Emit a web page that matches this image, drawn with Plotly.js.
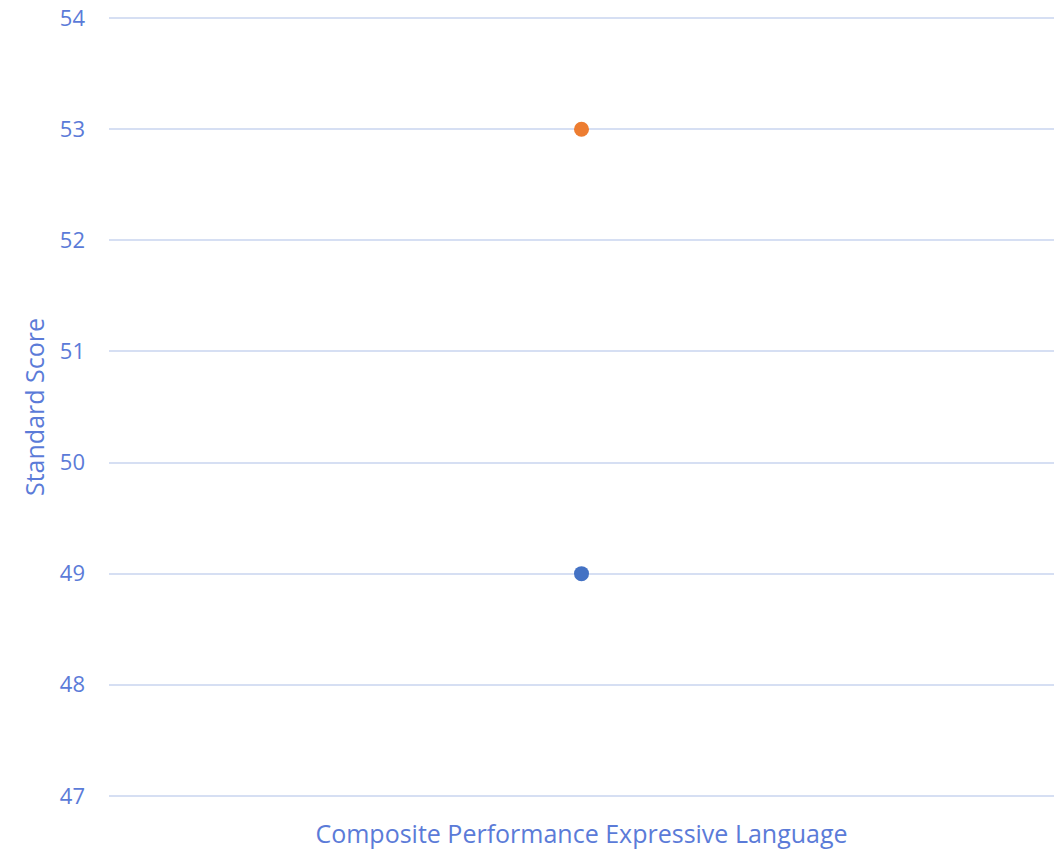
<!DOCTYPE html>
<html><head><meta charset="utf-8">
<script src="https://cdn.plot.ly/plotly-3.0.1.min.js"></script>
<style>html,body{margin:0;padding:0;background:#fff}#chart{width:1064px;height:850px}</style>
</head><body><div id="chart"></div>
<script>
const categories = ["Composite Performance Expressive Language"];
const seriesA = [49];
const seriesB = [53];
const seriesNames = ["Score A", "Score B"];
const colors = ["#4472C4", "#ED7D31"];
const textColor = "#5B7BD8";
const data = [
  {type:'scatter', mode:'markers', x:categories, y:seriesA, name:seriesNames[0], marker:{color:colors[0], size:15}},
  {type:'scatter', mode:'markers', x:categories, y:seriesB, name:seriesNames[1], marker:{color:colors[1], size:15}}
];
const layout = {
  width:1064, height:850,
  margin:{l:109, r:10, t:17, b:53},
  showlegend:false,
  paper_bgcolor:'#fff', plot_bgcolor:'#fff',
  font:{family:'"Open Sans", "Noto Sans", sans-serif', color:textColor, size:22},
  xaxis:{type:'category', showgrid:false, zeroline:false, showline:false, ticks:'', tickfont:{size:25, color:textColor}, ticklabelstandoff:20},
  yaxis:{range:[46.99,54.01], dtick:1, tick0:47, gridcolor:'#D6DFF3', gridwidth:2, zeroline:false, showline:false, ticks:'', ticklabelstandoff:23,
    tickfont:{size:22, color:textColor},
    title:{text:'Standard Score', font:{size:25, color:textColor}, standoff:8}}
};
Plotly.newPlot('chart', data, layout, {displayModeBar:false, staticPlot:true});
</script></body></html>
